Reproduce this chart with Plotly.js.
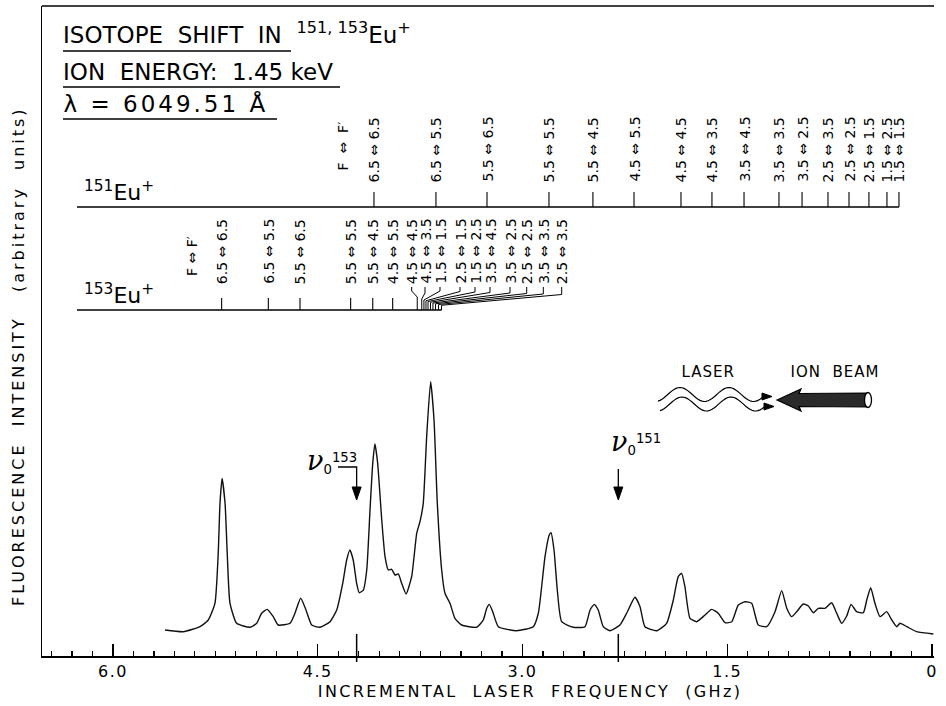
<!DOCTYPE html>
<html><head><meta charset="utf-8">
<script src="https://cdn.plot.ly/plotly-3.0.1.min.js"></script>
<style>
html,body{margin:0;padding:0;background:#fff;}
#chart{width:946px;height:706px;}
.xtick text{letter-spacing:1.5px;}
</style></head><body><div id="chart"></div>
<script>
// ---------------- DATA ----------------
// Fluorescence spectrum (incremental laser frequency in GHz, intensity in arbitrary units)
const freqGHz = [5.619,5.485,5.363,5.302,5.253,5.229,5.216,5.201,5.179,5.163,
5.143,5.094,4.996,4.947,4.911,4.870,4.826,4.789,4.703,4.667,
4.625,4.586,4.544,4.484,4.410,4.361,4.317,4.288,4.264,4.240,
4.215,4.196,4.166,4.141,4.117,4.097,4.081,4.061,4.031,4.007,
3.983,3.958,3.934,3.910,3.885,3.853,3.812,3.775,3.751,3.727,
3.702,3.673,3.648,3.624,3.592,3.568,3.531,3.495,3.445,3.336,
3.287,3.262,3.243,3.218,3.177,3.043,2.921,2.884,2.835,2.804,
2.791,2.769,2.745,2.713,2.628,2.542,2.505,2.474,2.445,2.408,
2.359,2.286,2.237,2.176,2.139,2.103,2.017,1.944,1.895,1.859,
1.834,1.810,1.773,1.724,1.663,1.614,1.566,1.516,1.467,1.419,
1.370,1.321,1.273,1.211,1.150,1.101,1.064,1.028,0.991,0.943,
0.906,0.870,0.833,0.784,0.735,0.698,0.662,0.625,0.593,0.552,
0.503,0.478,0.449,0.418,0.381,0.332,0.295,0.259,0.234,0.185,
0.112,-0.010];
const intensity = [4.00,3.74,4.51,5.54,8.11,15.8,23.5,27.3,23.5,15.8,
8.15,5.03,4.42,5.03,6.57,7.18,6.05,4.77,5.03,6.57,
8.88,7.08,4.77,4.42,5.28,7.08,11.18,14.77,16.31,14.77,
11.18,9.74,10.15,13.23,22.46,29.65,32.62,29.65,20.92,15.28,
13.23,13.34,12.46,12.62,11.18,9.54,12.2,18.88,20.66,23.49,
33.74,42.2,36.31,23.49,13.23,9.65,8.11,5.8,4.77,4.42,
5.54,7.34,7.95,6.82,4.51,3.89,4.51,6.57,15.28,18.62,
18.97,16.31,10.15,5.28,4.42,4.51,7.08,7.95,7.08,4.51,
3.89,4.77,6.57,9.03,7.58,4.51,3.89,5.03,8.62,12.2,
12.72,10.66,5.8,5.28,6.31,7.18,6.57,5.12,5.28,7.85,
8.35,8.11,4.77,4.51,6.82,10.05,7.34,6.05,6.82,8.0,
7.69,6.66,7.34,7.34,8.2,6.57,5.03,6.15,7.95,6.82,
6.66,8.62,10.51,8.11,6.05,6.82,5.54,4.51,5.03,4.51,
3.74,3.38];

// Line centres
const nu0_153 = 4.215;
const nu0_151 = 2.298;

// Hyperfine component positions (GHz) and labels
const eu151Labels = ['6.5 ⇔ 6.5','6.5 ⇔ 5.5','5.5 ⇔ 6.5','5.5 ⇔ 5.5','5.5 ⇔ 4.5','4.5 ⇔ 5.5','4.5 ⇔ 4.5','4.5 ⇔ 3.5','3.5 ⇔ 4.5','3.5 ⇔ 3.5','3.5 ⇔ 2.5','2.5 ⇔ 3.5','2.5 ⇔ 2.5','2.5 ⇔ 1.5','1.5 ⇔ 2.5','1.5 ⇔ 1.5'];
const eu151Freq = [4.088,3.634,3.260,2.806,2.484,2.183,1.839,1.612,1.377,1.121,0.952,0.762,0.608,0.462,0.330,0.242];
const eu153Labels = ['6.5 ⇔ 6.5','6.5 ⇔ 5.5','5.5 ⇔ 6.5','5.5 ⇔ 5.5','5.5 ⇔ 4.5','4.5 ⇔ 5.5','4.5 ⇔ 4.5','4.5 ⇔ 3.5','1.5 ⇔ 1.5','2.5 ⇔ 1.5','1.5 ⇔ 2.5','3.5 ⇔ 4.5','3.5 ⇔ 2.5','2.5 ⇔ 2.5','3.5 ⇔ 3.5','2.5 ⇔ 3.5'];
const eu153Freq = [5.204,4.862,4.630,4.259,4.097,3.951,3.771,3.738,3.722,3.707,3.692,3.674,3.656,3.637,3.615,3.593];

const xTickVals = [0,1.5,3,4.5,6];
const xTickText = ['0','1.5','3.0','4.5','6.0'];

// ---------------- LAYOUT GEOMETRY ----------------
const W=946, H=706, M={l:42,r:12,t:6,b:50};
const PW=W-M.l-M.r, PH=H-M.t-M.b;
const X_RANGE=[6.52,-0.0147], Y_RANGE=[0,100];
const px2x = px => X_RANGE[0] + (px-M.l)/PW*(X_RANGE[1]-X_RANGE[0]);
const py2y = py => Y_RANGE[1] - (py-M.t)/PH*(Y_RANGE[1]-Y_RANGE[0]);
const x2px = x => M.l + (x-X_RANGE[0])/(X_RANGE[1]-X_RANGE[0])*PW;
const ppx = px => (px-M.l)/PW;
const ppy = py => 1-(py-M.t)/PH;

const FONT = 'DejaVu Sans, Liberation Sans, Arial, sans-serif';
const shapes = [];
const ann = [];
const spaced = [];
function addAnn(a, ls){ if(ls) spaced.push([ann.length, ls]); ann.push(a); }
const LW = 1.3;

function pathPaper(pts, close){
  return pts.map((p,i)=>(i?'L':'M')+ppx(p[0]).toFixed(5)+','+ppy(p[1]).toFixed(5)).join(' ')+(close?' Z':'');
}
function pathData(pts){
  return pts.map((p,i)=>(i?'L':'M')+px2x(p[0]).toFixed(5)+','+py2y(p[1]).toFixed(5)).join(' ');
}

// top frame line
shapes.push({type:'line',xref:'paper',yref:'paper',x0:0,x1:1,y0:1,y1:1,line:{color:'#000',width:1.5}});

// ---- Axis titles (placed as in the original figure) ----
addAnn({xref:'paper',yref:'paper',x:ppx(530),y:ppy(691),xanchor:'center',yanchor:'middle',
  text:'INCREMENTAL  LASER  FREQUENCY  (GHz)',showarrow:false,font:{family:FONT,size:16,color:'#000'},borderpad:0}, 2.4);
addAnn({xref:'paper',yref:'paper',x:ppx(18),y:ppy(356),xanchor:'center',yanchor:'middle',textangle:-90,
  text:'FLUORESCENCE  INTENSITY   (arbitrary  units)',showarrow:false,font:{family:FONT,size:16,color:'#000'}}, 3);

// ---- Title block ----
const titleLines = [
  {text:'ISOTOPE  SHIFT  IN  <sup>151, 153</sup>Eu<sup>+</sup>', base:43, ul:[63,291,51], ls:0},
  {text:'ION  ENERGY:  1.45 keV', base:80, ul:[63,340,87], ls:0},
  {text:'λ = 6049.51 Å', base:112, ul:[63,277,119], ls:3, cx:166}
];
titleLines.forEach(t=>{
  if(t.ls){
    addAnn({xref:'paper',yref:'paper',x:ppx(t.cx),y:ppy(t.base+6),xanchor:'center',yanchor:'bottom',
      text:t.text,showarrow:false,font:{family:FONT,size:23,color:'#000'},borderpad:0}, t.ls);
  } else {
    addAnn({xref:'paper',yref:'paper',x:ppx(62),y:ppy(t.base+6),xanchor:'left',yanchor:'bottom',
      text:t.text,showarrow:false,font:{family:FONT,size:23,color:'#000'},borderpad:0});
  }
  shapes.push({type:'line',xref:'paper',yref:'paper',x0:ppx(t.ul[0]),x1:ppx(t.ul[1]),y0:ppy(t.ul[2]),y1:ppy(t.ul[2]),line:{color:'#000',width:1.5}});
});

const LABF = {family:FONT,size:14,color:'#000'};
// ---- Stick diagram: 151Eu+ ----
const r151 = {base:207, top:192, lab:183};
shapes.push({type:'line',xref:'x',yref:'y',x0:px2x(77),x1:eu151Freq[eu151Freq.length-1],y0:py2y(r151.base),y1:py2y(r151.base),line:{color:'#000',width:LW}});
eu151Freq.forEach((f,i)=>{
  shapes.push({type:'line',xref:'x',yref:'y',x0:f,x1:f,y0:py2y(r151.base),y1:py2y(r151.top),line:{color:'#000',width:1.1}});
  addAnn({xref:'x',yref:'y',x:f,y:py2y(r151.lab),xanchor:'center',yanchor:'bottom',textangle:-90,
    text:eu151Labels[i],showarrow:false,font:LABF,borderpad:0});
});
addAnn({xref:'x',yref:'y',x:px2x(342),y:py2y(172),xanchor:'center',yanchor:'bottom',textangle:-90,
  text:'F  ⇔  F′',showarrow:false,font:LABF,borderpad:0});
addAnn({xref:'paper',yref:'paper',x:ppx(83),y:ppy(206),xanchor:'left',yanchor:'bottom',
  text:'<sup>151</sup>Eu<sup>+</sup>',showarrow:false,font:{family:FONT,size:22,color:'#000'},borderpad:0});

// ---- Stick diagram: 153Eu+ ----
const r153 = {base:310, top:298, lab:285};
const cluster0 = 6;
const clusterLabelPx = [411.7,425,440,460,475,490,510,526.7,543.3,561.7];
shapes.push({type:'line',xref:'x',yref:'y',x0:px2x(77),x1:eu153Freq[eu153Freq.length-1],y0:py2y(r153.base),y1:py2y(r153.base),line:{color:'#000',width:LW}});
eu153Freq.forEach((f,i)=>{
  let labX;
  if(i<cluster0){
    shapes.push({type:'line',xref:'x',yref:'y',x0:f,x1:f,y0:py2y(r153.base),y1:py2y(r153.top),line:{color:'#000',width:1.1}});
    labX = f;
  } else {
    const k=i-cluster0, Lx=clusterLabelPx[k], foot=x2px(f);
    let knee, ftop;
    if(k===0){knee=291;ftop=297;}
    else if(k===1){knee=293;ftop=299;}
    else {knee=291+(k-2)*0.5; ftop=300+(k-2)*0.75;}
    shapes.push({type:'path',xref:'x',yref:'y',path:pathData([[Lx,r153.lab+2],[Lx,knee],[foot,ftop],[foot,r153.base]]),line:{color:'#000',width:1.0}});
    labX = px2x(Lx);
  }
  addAnn({xref:'x',yref:'y',x:labX,y:py2y(r153.lab),xanchor:'center',yanchor:'bottom',textangle:-90,
    text:eu153Labels[i],showarrow:false,font:LABF,borderpad:0});
});
addAnn({xref:'x',yref:'y',x:px2x(192),y:py2y(277),xanchor:'center',yanchor:'bottom',textangle:-90,
  text:'F ⇔ F′',showarrow:false,font:LABF,borderpad:0});
addAnn({xref:'paper',yref:'paper',x:ppx(83),y:ppy(309),xanchor:'left',yanchor:'bottom',
  text:'<sup>153</sup>Eu<sup>+</sup>',showarrow:false,font:{family:FONT,size:22,color:'#000'},borderpad:0});

// ---- nu0 labels and arrows ----
function nuLabel(lx,cy,iso){
  addAnn({xref:'paper',yref:'paper',x:ppx(lx),y:ppy(cy),xanchor:'left',yanchor:'middle',
    text:'<span style="font-family:DejaVu Serif,serif;font-style:italic;font-size:27px">ν</span><sub>0</sub><sup>'+iso+'</sup>',
    showarrow:false,font:{family:FONT,size:19,color:'#000'}});
}
nuLabel(305,461,'153');
nuLabel(609,442,'151');
const a153 = x2px(nu0_153), a151 = x2px(nu0_151);
shapes.push({type:'path',xref:'paper',yref:'paper',path:pathPaper([[338,467],[a153,467],[a153,490]]),line:{color:'#000',width:1.3}});
shapes.push({type:'path',xref:'paper',yref:'paper',path:pathPaper([[a153-4.5,487],[a153+4.5,487],[a153,500]],true),fillcolor:'#000',line:{color:'#000',width:1}});
shapes.push({type:'path',xref:'paper',yref:'paper',path:pathPaper([[a151,469],[a151,490]]),line:{color:'#000',width:1.3}});
shapes.push({type:'path',xref:'paper',yref:'paper',path:pathPaper([[a151-4.5,487],[a151+4.5,487],[a151,500]],true),fillcolor:'#000',line:{color:'#000',width:1}});

// ---- Laser / ion beam sketch ----
addAnn({xref:'paper',yref:'paper',x:ppx(708),y:ppy(372),xanchor:'center',yanchor:'middle',text:'LASER',showarrow:false,font:{family:FONT,size:15,color:'#000'}}, 1);
addAnn({xref:'paper',yref:'paper',x:ppx(835),y:ppy(372),xanchor:'center',yanchor:'middle',text:'ION  BEAM',showarrow:false,font:{family:FONT,size:15,color:'#000'}}, 1);
function wave(x0,x1,yc,xc){
  const pts=[];
  for(let x=x0;x<=x1;x+=2){pts.push([x, yc-7*Math.cos(2*Math.PI*(x-xc)/49)]);}
  return pts;
}
shapes.push({type:'path',xref:'paper',yref:'paper',path:pathPaper(wave(658,764,394.5,680)),line:{color:'#000',width:1.2}});
shapes.push({type:'path',xref:'paper',yref:'paper',path:pathPaper(wave(660,766,404,682)),line:{color:'#000',width:1.2}});
shapes.push({type:'path',xref:'paper',yref:'paper',path:pathPaper([[762,393],[772,396.5],[762,400]],true),fillcolor:'#000',line:{color:'#000',width:1}});
shapes.push({type:'path',xref:'paper',yref:'paper',path:pathPaper([[764,403],[774,406.5],[764,410]],true),fillcolor:'#000',line:{color:'#000',width:1}});
shapes.push({type:'path',xref:'paper',yref:'paper',path:pathPaper([[777,400],[801,389],[799,393.5],[868,393],[868,407],[799,406.5],[801,411]],true),fillcolor:'#2a2a2a',line:{color:'#000',width:1.2}});
shapes.push({type:'circle',xref:'paper',yref:'paper',x0:ppx(864.5),x1:ppx(871.5),y0:ppy(392.5),y1:ppy(407.5),fillcolor:'#fff',line:{color:'#000',width:1.3}});

// letter spacing for the hand-lettered look (applied before measuring)
const st = document.createElement('style');
st.textContent = spaced.map(([i,ls])=>'.annotation[data-index="'+i+'"] text{letter-spacing:'+ls+'px;}').join('\n');
document.head.appendChild(st);

// ---------------- TRACES ----------------
const spectrum = {x:freqGHz, y:intensity, type:'scatter', mode:'lines',
  line:{color:'#111',width:1.4,shape:'spline',smoothing:0.5}, hoverinfo:'skip', showlegend:false};
const nuTicks = {x:[nu0_153,nu0_151], y:[py2y(648),py2y(648)], type:'scatter', mode:'markers', cliponaxis:false,
  marker:{symbol:'line-ns-open',size:20,color:'#000',line:{color:'#000',width:1.5}}, hoverinfo:'skip', showlegend:false};

const minorVals=[];
for(let k=0;k<=43;k++){ if(k%10!==0) minorVals.push(+(k*0.15).toFixed(2)); }

const layout = {
  width:W, height:H, margin:M, paper_bgcolor:'#fff', plot_bgcolor:'#fff', showlegend:false,
  xaxis:{range:X_RANGE, showline:true, linecolor:'#000', linewidth:1.5, mirror:false,
    ticks:'inside', ticklen:12, tickwidth:1.3, tickcolor:'#000',
    tickmode:'array', tickvals:xTickVals, ticktext:xTickText, ticklabelstandoff:0,
    tickfont:{family:FONT,size:16,color:'#000'}, showgrid:false, zeroline:false, fixedrange:true,
    minor:{tickmode:'array', tickvals:minorVals, ticks:'inside', ticklen:5, tickwidth:1.2, tickcolor:'#000', showgrid:false}},
  yaxis:{range:Y_RANGE, showline:true, linecolor:'#000', linewidth:1.5, ticks:'', showticklabels:false,
    showgrid:false, zeroline:false, fixedrange:true},
  shapes:shapes, annotations:ann
};
Plotly.newPlot('chart',[spectrum,nuTicks],layout,{staticPlot:true,displayModeBar:false});
</script></body></html>
